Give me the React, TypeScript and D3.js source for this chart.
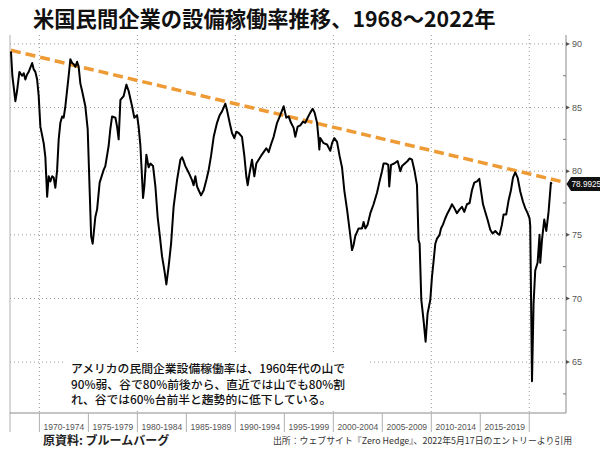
import React from "react";
import * as d3 from "d3";

// ---- data ----
const years: number[] = [
  1967.1, 1967.24, 1967.55, 1967.72, 1967.96, 1968.23, 1968.4, 1968.57, 1968.74, 1968.91,
  1969.26, 1969.42, 1969.59, 1969.77, 1969.93, 1970.1, 1970.44, 1970.61, 1970.79, 1970.95,
  1971.12, 1971.3, 1971.46, 1971.63, 1971.81, 1971.97, 1972.14, 1972.32, 1972.48, 1972.65,
  1972.99, 1973.16, 1973.34, 1973.5, 1973.67, 1973.85, 1974.01, 1974.18, 1974.36, 1974.69,
  1974.93, 1975.13, 1975.28, 1975.44, 1975.71, 1975.89, 1976.15, 1976.56, 1976.73, 1977.07,
  1977.24, 1977.42, 1977.76, 1977.93, 1978.09, 1978.27, 1978.6, 1978.88, 1979.11, 1979.46,
  1979.69, 1979.97, 1980.13, 1980.31, 1980.58, 1980.71, 1980.92, 1981.15, 1981.33, 1981.6,
  1981.84, 1982.07, 1982.28, 1982.52, 1982.76, 1982.96, 1983.19, 1983.44, 1983.7, 1984.05,
  1984.39, 1984.56, 1984.72, 1984.9, 1985.23, 1985.58, 1985.74, 1985.92, 1986.09, 1986.26,
  1986.5, 1986.77, 1987.04, 1987.28, 1987.52, 1987.79, 1988.13, 1988.4, 1988.64, 1988.98,
  1989.15, 1989.42, 1989.66, 1989.9, 1990.1, 1990.34, 1990.68, 1990.92, 1991.12, 1991.26,
  1991.46, 1991.7, 1991.94, 1992.14, 1992.38, 1992.62, 1992.89, 1993.16, 1993.4, 1993.64,
  1993.91, 1994.26, 1994.59, 1994.93, 1995.2, 1995.44, 1995.68, 1995.95, 1996.12, 1996.36,
  1996.63, 1996.91, 1997.14, 1997.38, 1997.65, 1997.89, 1998.09, 1998.34, 1998.5, 1998.57,
  1998.67, 1999.01, 1999.36, 1999.69, 1999.87, 2000.1, 2000.38, 2000.64, 2000.89, 2001.12,
  2001.4, 2001.66, 2001.91, 2002.07, 2002.24, 2002.58, 2002.93, 2003.09, 2003.27, 2003.5,
  2003.78, 2004.11, 2004.46, 2004.72, 2004.97, 2005.13, 2005.41, 2005.61, 2005.71, 2005.89,
  2006.22, 2006.56, 2006.84, 2007.01, 2007.3, 2007.58, 2007.79, 2008.03, 2008.27, 2008.54,
  2008.7, 2008.81, 2008.98, 2009.21, 2009.42, 2009.62, 2009.9, 2010.07, 2010.23, 2010.41,
  2010.58, 2010.85, 2010.99, 2011.19, 2011.43, 2011.66, 2011.94, 2012.11, 2012.35, 2012.62,
  2012.89, 2013.13, 2013.37, 2013.64, 2013.91, 2014.15, 2014.39, 2014.66, 2014.9, 2015.07,
  2015.28, 2015.51, 2015.74, 2016.02, 2016.26, 2016.53, 2016.77, 2016.97, 2017.21, 2017.38,
  2017.65, 2017.89, 2018.13, 2018.34, 2018.57, 2018.81, 2019.08, 2019.36, 2019.59, 2019.83,
  2020.03, 2020.1, 2020.28, 2020.44, 2020.61, 2020.85, 2021.05, 2021.12, 2021.3, 2021.53,
  2021.74, 2021.97, 2022.21, 2022.29,
];

const utilization: number[] = [
  89.4, 87.5, 85.5, 86.3, 87.8, 87.5, 87.7, 87.2, 87.6, 87.8,
  88.5, 88.0, 87.8, 87.2, 85.9, 83.5, 82.2, 81.1, 78.0, 79.6,
  79.2, 79.6, 79.5, 78.7, 80.1, 82.5, 83.8, 84.3, 84.2, 85.1,
  87.5, 88.8, 88.5, 88.4, 88.2, 88.6, 88.2, 86.9, 86.3, 85.1,
  83.3, 78.5, 74.9, 74.3, 76.4, 77.0, 79.1, 80.1, 80.4, 82.0,
  83.3, 84.3, 84.2, 83.5, 82.5, 85.6, 85.9, 86.8, 86.3, 85.1,
  84.2, 84.4, 83.5, 82.0, 77.9, 78.8, 81.3, 80.3, 80.6, 80.4,
  78.8, 76.4, 75.0, 73.3, 72.2, 71.1, 72.5, 74.3, 77.2, 79.3,
  80.9, 81.1, 80.8, 80.4, 79.9, 79.3, 78.9, 79.6, 78.8, 78.5,
  78.1, 78.5, 79.3, 80.1, 81.2, 82.7, 83.8, 84.4, 84.7, 85.3,
  84.8, 83.8, 83.0, 82.6, 83.1, 83.0, 82.7, 81.2, 79.6, 78.9,
  79.9, 80.9, 79.6, 80.6, 80.9, 81.2, 81.5, 81.8, 81.5, 82.1,
  82.7, 83.8, 84.4, 85.1, 84.2, 84.3, 83.8, 83.4, 82.7, 83.5,
  83.6, 83.9, 83.8, 84.2, 84.6, 84.9, 84.6, 83.8, 82.5, 81.7,
  82.6, 82.2, 82.1, 81.6, 82.2, 82.6, 82.3, 81.2, 80.3, 78.5,
  77.0, 75.4, 73.8, 74.2, 74.9, 75.5, 75.5, 76.0, 75.5, 75.8,
  76.7, 77.4, 78.3, 79.2, 80.0, 80.6, 80.6, 80.5, 78.8, 80.5,
  80.6, 80.8, 80.0, 80.4, 80.6, 80.8, 81.0, 80.9, 80.1, 78.9,
  74.6, 74.3, 69.9, 68.3, 66.6, 68.8, 69.9, 71.7, 72.9, 74.3,
  74.7, 75.0, 75.5, 75.8, 76.3, 76.7, 77.1, 77.4, 77.1, 76.7,
  77.0, 77.2, 76.8, 77.4, 77.5, 78.5, 79.1, 79.2, 79.4, 78.5,
  77.4, 76.8, 76.2, 75.4, 75.1, 75.3, 75.1, 75.0, 75.8, 76.6,
  76.6, 77.7, 78.5, 79.5, 79.9, 79.5, 78.4, 77.6, 77.1, 76.7,
  76.3, 75.7, 63.5, 69.6, 72.2, 72.8, 75.0, 72.8, 74.6, 76.2,
  75.3, 76.8, 79.1, 78.99,
];

const lastValueLabel = "78.9925";

const trendYears: number[] = [1967.1, 2023.2];
const trendValues: number[] = [89.5, 79.2];

const yMajorTicks: number[] = [65, 70, 75, 80, 85, 90];
const yMinorTicks: number[] = [62.5, 67.5, 72.5, 77.5, 82.5, 87.5];
const xGridYears: number[] = [1970, 1980, 1990, 2000, 2010, 2020];
const periodStarts: number[] = [1970, 1975, 1980, 1985, 1990, 1995, 2000, 2005, 2010, 2015];
const periodLabels: string[] = [
  "1970-1974", "1975-1979", "1980-1984", "1985-1989", "1990-1994",
  "1995-1999", "2000-2004", "2005-2009", "2010-2014", "2015-2019",
];

const titleText = "米国民間企業の設備稼働率推移、1968～2022年";
const noteLines: string[] = [
  "アメリカの民間企業設備稼働率は、1960年代の山で",
  "90%弱、谷で80%前後から、直近では山でも80%割",
  "れ、谷では60%台前半と趨勢的に低下している。",
];
const sourceLeft = "原資料: ブルームバーグ";
const sourceRight = "出所：ウェブサイト『Zero Hedge』、2022年5月17日のエントリーより引用";

// ---- layout ----
const W = 600;
const H = 449;
const plotLeft = 10;
const plotRight = 566;
const plotTop = 35;
const plotBottom = 413;

const CJK = "'Noto Sans CJK JP', 'Noto Sans', sans-serif";
const SANS = "'Liberation Sans', Arial, sans-serif";

export default function App() {
  const x = d3.scaleLinear().domain([1967, 2023.75]).range([plotLeft, plotRight]);
  const y = d3.scaleLinear().domain([61, 90.7]).range([plotBottom, plotTop]);

  const series = years.map((yr, i) => [yr, utilization[i]] as [number, number]);
  const line = d3
    .line<[number, number]>()
    .x((d) => x(d[0]))
    .y((d) => y(d[1]));
  const trend = trendYears.map((yr, i) => [yr, trendValues[i]] as [number, number]);

  const lastY = y(utilization[utilization.length - 1]);

  const separators = [...periodStarts, 2020];

  return (
    <svg
      width={W}
      height={H}
      style={{ position: "absolute", left: 0, top: 0, background: "#fff" }}
    >
      <rect x={0} y={0} width={W} height={H} fill="#fff" />

      {/* title */}
      <text
        x={33}
        y={27}
        fontFamily={CJK}
        fontWeight={700}
        fontSize={21.3}
        fill="#111"
      >
        {titleText}
      </text>

      {/* horizontal gridlines */}
      {yMajorTicks.map((t) => (
        <line
          key={"hg" + t}
          x1={plotLeft}
          x2={plotRight}
          y1={y(t)}
          y2={y(t)}
          stroke="#9a9a9a"
          strokeWidth={1}
          strokeDasharray="1 3"
        />
      ))}
      {/* vertical gridlines */}
      {xGridYears.map((t) => (
        <line
          key={"vg" + t}
          x1={x(t)}
          x2={x(t)}
          y1={plotTop}
          y2={plotBottom}
          stroke="#9a9a9a"
          strokeWidth={1}
          strokeDasharray="1 3"
        />
      ))}

      {/* frame */}
      <line x1={plotLeft} x2={plotLeft} y1={plotTop} y2={432} stroke="#b0b0b0" />
      <line x1={plotLeft} x2={plotRight} y1={plotBottom} y2={plotBottom} stroke="#8a8a8a" />
      <line x1={plotRight} x2={plotRight} y1={plotTop} y2={plotBottom} stroke="#8a8a8a" />

      {/* right axis ticks */}
      {yMinorTicks.map((t) => (
        <line
          key={"mt" + t}
          x1={plotRight - 3}
          x2={plotRight}
          y1={y(t)}
          y2={y(t)}
          stroke="#777"
        />
      ))}
      {yMajorTicks.map((t) => (
        <g key={"yt" + t}>
          <path
            d={`M${plotRight},${y(t) - 2} L${plotRight + 4},${y(t)} L${plotRight},${y(t) + 2} Z`}
            fill="#555"
          />
          <text
            x={plotRight + 6}
            y={y(t) + 3.2}
            fontFamily={SANS}
            fontSize={9}
            fill="#555"
          >
            {t}
          </text>
        </g>
      ))}

      {/* bottom period separators and labels */}
      {separators.map((s) => (
        <line
          key={"sep" + s}
          x1={x(s)}
          x2={x(s)}
          y1={plotBottom}
          y2={432}
          stroke="#b0b0b0"
        />
      ))}
      {periodStarts.map((s, i) => (
        <text
          key={"pl" + s}
          x={x(s + 2.5)}
          y={430}
          textAnchor="middle"
          fontFamily={SANS}
          fontSize={8.5}
          fill="#555"
        >
          {periodLabels[i]}
        </text>
      ))}

      {/* annotation background */}
      <rect x={66} y={355} width={304} height={53} fill="#fff" />

      {/* trend line */}
      <path
        d={line(trend) || ""}
        fill="none"
        stroke="#EE9A35"
        strokeWidth={3.5}
        strokeDasharray="10 5"
      />

      {/* series */}
      <path
        d={line(series) || ""}
        fill="none"
        stroke="#000"
        strokeWidth={2}
        strokeLinejoin="round"
      />

      {/* last value label */}
      <path
        d={`M${plotRight + 0.5},${lastY} L${plotRight + 5},${lastY - 7} L${W},${lastY - 7} L${W},${lastY + 7} L${plotRight + 5},${lastY + 7} Z`}
        fill="#111"
      />
      <text
        x={plotRight + 5.5}
        y={lastY + 3}
        fontFamily={SANS}
        fontSize={8.2}
        fill="#fff"
      >
        {lastValueLabel}
      </text>

      {/* annotation text */}
      {noteLines.map((t, i) => (
        <text
          key={"nl" + i}
          x={71}
          y={373 + i * 15.6}
          fontFamily={CJK}
          fontWeight={500}
          fontSize={11.8}
          fill="#111"
        >
          {t}
        </text>
      ))}

      {/* sources */}
      <text x={43} y={445} fontFamily={CJK} fontWeight={700} fontSize={12} fill="#222">
        {sourceLeft}
      </text>
      <text x={273} y={443.5} fontFamily={CJK} fontSize={8.9} fill="#333">
        {sourceRight}
      </text>
    </svg>
  );
}
